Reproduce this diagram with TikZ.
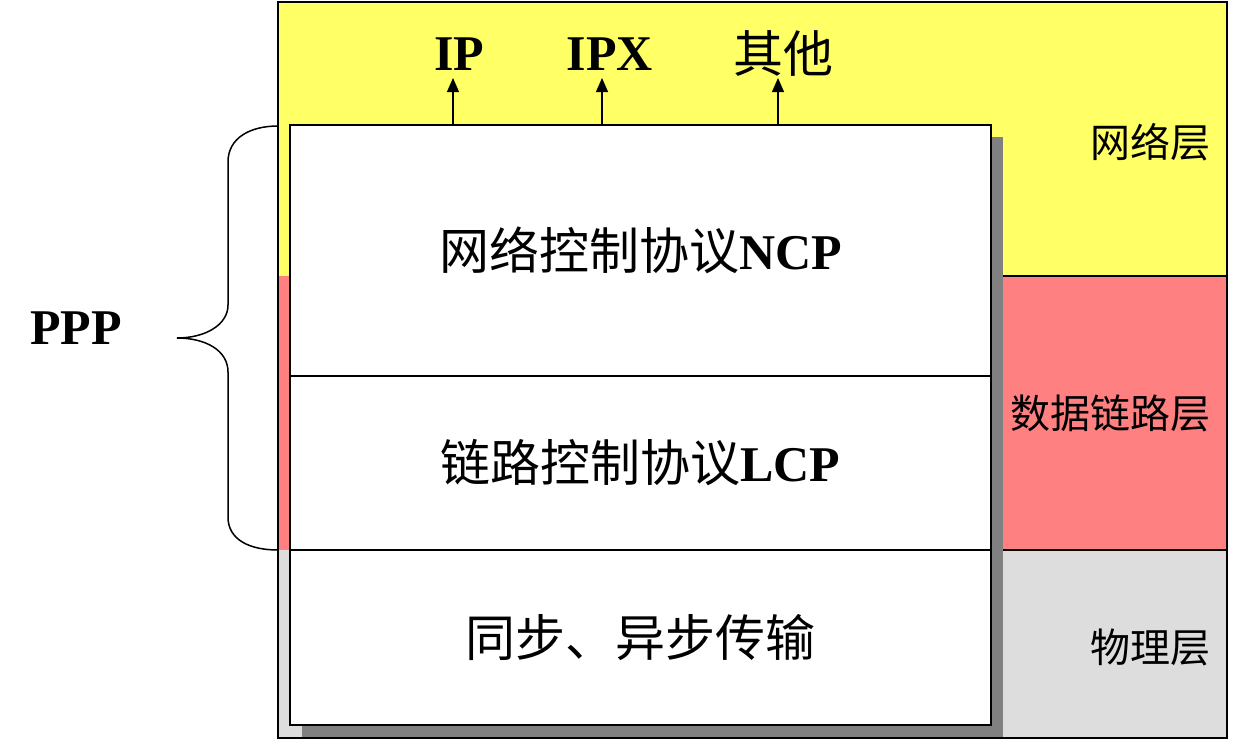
\documentclass[tikz,border=0pt]{standalone}
\usepackage{fontspec}
\setmainfont{Liberation Serif}
\newfontfamily\cjk{Noto Sans CJK SC}
\usetikzlibrary{arrows.meta, positioning}
\definecolor{netyellow}{HTML}{FFFF66}
\definecolor{linkred}{HTML}{FF8080}
\definecolor{phygray}{HTML}{DDDDDD}
\definecolor{shadowgray}{HTML}{808080}

\begin{document}
\begin{tikzpicture}[x=0.5pt, y=-0.5pt,
  proto/.style={draw, fill=white, line width=1pt, outer sep=0pt, minimum width=350.5pt, anchor=north west, font=\fontsize{25}{30}\selectfont},
  lyr/.style={anchor=east, inner sep=0pt, font=\cjk\fontsize{20}{24}\selectfont},
  lbl/.style={inner sep=2pt, font=\bfseries\fontsize{25}{30}\selectfont},
  arr/.style={-{Triangle[width=6pt,length=7pt]}, line width=0.6pt}]
 \useasboundingbox (0,0) rectangle (1239,740);
 % layers
 \fill[netyellow] (278,2) rectangle (1227,276);
 \fill[linkred] (278,276) rectangle (1227,550);
 \fill[phygray] (278,550) rectangle (1227,738);
 \draw[line width=1pt] (991,276) -- (1227,276) (991,550) -- (1227,550);
 \draw[line width=1pt] (278,2) rectangle (1227,738);
 \node[lyr] (net) at (1211,142) {网络层};
 \node[lyr] (link) at (1211,413) {数据链路层};
 \node[lyr] (phys) at (1211,647) {物理层};
 % ppp stack
 \fill[shadowgray] (302,137) rectangle (1003,737);
 \node[proto, minimum height=125.5pt] (ncp) at (290,125) {{\cjk 网络控制协议}\textbf{NCP}};
 \node[proto, minimum height=87pt] (lcp) at (ncp.south west) {{\cjk 链路控制协议}\textbf{LCP}};
 \node[proto, minimum height=87.5pt] (phy) at (lcp.south west) {\cjk 同步、异步传输};
 % upper protocols
 \node[lbl, anchor=base] (ip) at (459,70) {IP};
 \node[lbl, anchor=base] (ipx) at (610,70) {IPX};
 \node[lbl, anchor=base, font=\cjk\fontsize{25}{30}\selectfont] (other) at (783,72) {其他};
 \draw[arr] ([xshift=-3pt]ip.base |- ncp.north) -- ([shift={(-3pt,-4pt)}]ip.base);
 \draw[arr] ([xshift=-4pt]ipx.base |- ncp.north) -- ([shift={(-4pt,-4pt)}]ipx.base);
 \draw[arr] ([xshift=-2.5pt]other.base |- ncp.north) -- ([shift={(-2.5pt,-3pt)}]other.base);
 % brace
 \node[lbl] (ppp) at (76,328) {PPP};
 \draw[line width=0.75pt] (278,126) .. controls (250,126) and (228,138) .. (228,162) -- (228,305)
   .. controls (228,325) and (205,338) .. (177,338) .. controls (205,338) and (228,350) .. (228,372)
   -- (228,517) .. controls (228,540) and (250,550) .. (278,550);
\end{tikzpicture}
\end{document}
